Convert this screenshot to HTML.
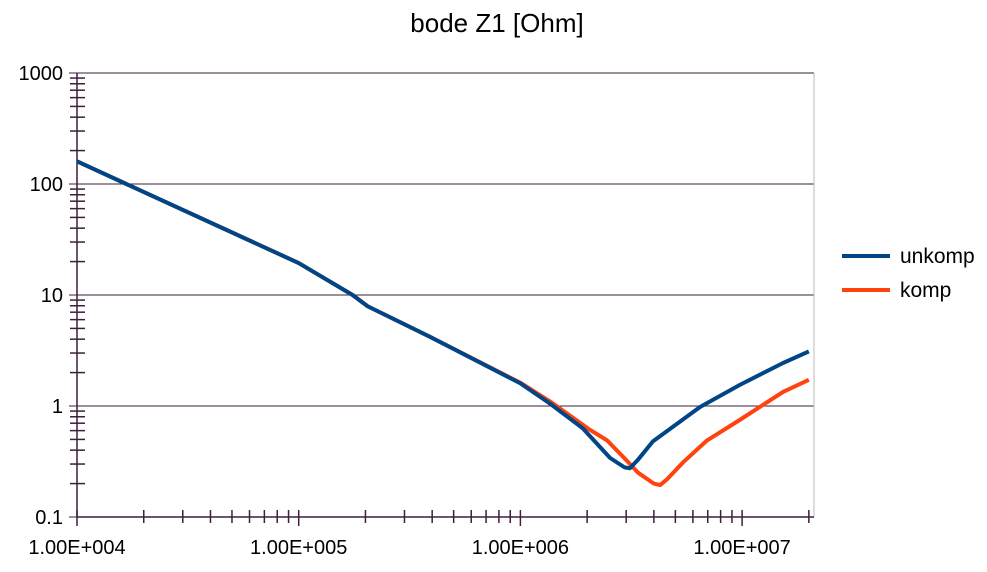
<!DOCTYPE html>
<html><head><meta charset="utf-8"><style>
body{margin:0;background:#fff;}
svg text{font-family:"Liberation Sans",sans-serif;fill:#000;}
</style></head><body>
<svg width="987" height="567">
<text x="497" y="32" text-anchor="middle" font-size="26">bode Z1 [Ohm]</text>
<g id="grid"></g><g id="axes"></g><g id="series"></g>
<g>
<line x1="842" y1="256" x2="890" y2="256" stroke="#004586" stroke-width="4"/>
<text x="900" y="263" font-size="21">unkomp</text>
<line x1="842" y1="290" x2="890" y2="290" stroke="#ff420e" stroke-width="4"/>
<text x="900" y="297" font-size="21">komp</text>
</g>
</svg>
<script>
const blueF=[1e4,1e5,1.75e5,2.05e5,3.91e5,1e6,1.36e6,1.91e6,2.54e6,2.95e6,3.12e6,3.4e6,3.96e6,6.46e6,9.77e6,1.53e7,2e7];
const blueV=[160,19.4,10,7.9,4.2,1.6,1.05,0.63,0.34,0.28,0.275,0.33,0.48,0.98,1.55,2.44,3.1];
const orangeF=[1e4,1e5,1.75e5,2.05e5,3.91e5,1e6,1.36e6,2.06e6,2.46e6,2.9e6,3.4e6,4.0e6,4.27e6,4.6e6,5.41e6,6.95e6,9.77e6,1.53e7,2e7];
const orangeV=[160,19.4,10,7.9,4.2,1.62,1.1,0.61,0.49,0.35,0.25,0.2,0.194,0.22,0.31,0.49,0.75,1.34,1.72];
const yTicks=[0.1,1,10,100,1000];
const yLabels=["0.1","1","10","100","1000"];
const xTicks=[1e4,1e5,1e6,1e7];
const xLabels=["1.00E+004","1.00E+005","1.00E+006","1.00E+007"];
const L=77,R=814,T=73,B=517;
const X=f=>L+221.7*Math.log10(f/1e4);
const Y=v=>B-111*Math.log10(v/0.1);
const NS="http://www.w3.org/2000/svg";
function mk(tag,attrs,parent){const e=document.createElementNS(NS,tag);for(const k in attrs)e.setAttribute(k,attrs[k]);document.getElementById(parent).appendChild(e);return e;}
const ax="#3d1f3d";
yTicks.forEach((v,i)=>{
 const g=mk('line',{x1:L,x2:R,y1:Y(v),y2:Y(v),stroke:ax,'stroke-width':1},'grid');
 
 
 const t=mk('text',{x:63,y:Y(v)+7,'text-anchor':'end','font-size':20},'axes');
 t.textContent=yLabels[i];
 
 
 mk('line',{x1:69,x2:L,y1:Y(v),y2:Y(v),stroke:ax},'axes');
 if(i<yTicks.length-1)for(let m=2;m<10;m++){mk('line',{x1:70,x2:85,y1:Y(v*m),y2:Y(v*m),stroke:ax,'stroke-width':1.5},'axes');}
});
mk('line',{x1:R,x2:R,y1:T,y2:B,stroke:'#bbb'},'grid');
const ya=mk('line',{x1:L,x2:L,y1:T,y2:B,stroke:ax,'stroke-width':1.5},'axes');


const xa=mk('line',{x1:L,x2:R,y1:B,y2:B,stroke:ax,'stroke-width':1.5},'axes');


xTicks.forEach((f,i)=>{
 mk('line',{x1:X(f),x2:X(f),y1:B-7,y2:B+9,stroke:ax,'stroke-width':1.5},'axes');
 const t=mk('text',{x:X(f),y:554,'text-anchor':'middle','font-size':20},'axes');
 t.textContent=xLabels[i];
 
 
 for(let m=2;m<10;m++){const fx=f*m;if(fx<=2e7)mk('line',{x1:X(fx),x2:X(fx),y1:B-7,y2:B+6,stroke:ax,'stroke-width':1.5},'axes');}
});
function series(F,V,c,name){
 const p=mk('polyline',{points:F.map((f,i)=>X(f)+','+Y(V[i])).join(' '),fill:'none',stroke:c,'stroke-width':4,'stroke-linejoin':'round'},'series');
 
 
}
series(orangeF,orangeV,'#ff420e','series-komp');
series(blueF,blueV,'#004586','series-unkomp');
</script>
</body></html>
